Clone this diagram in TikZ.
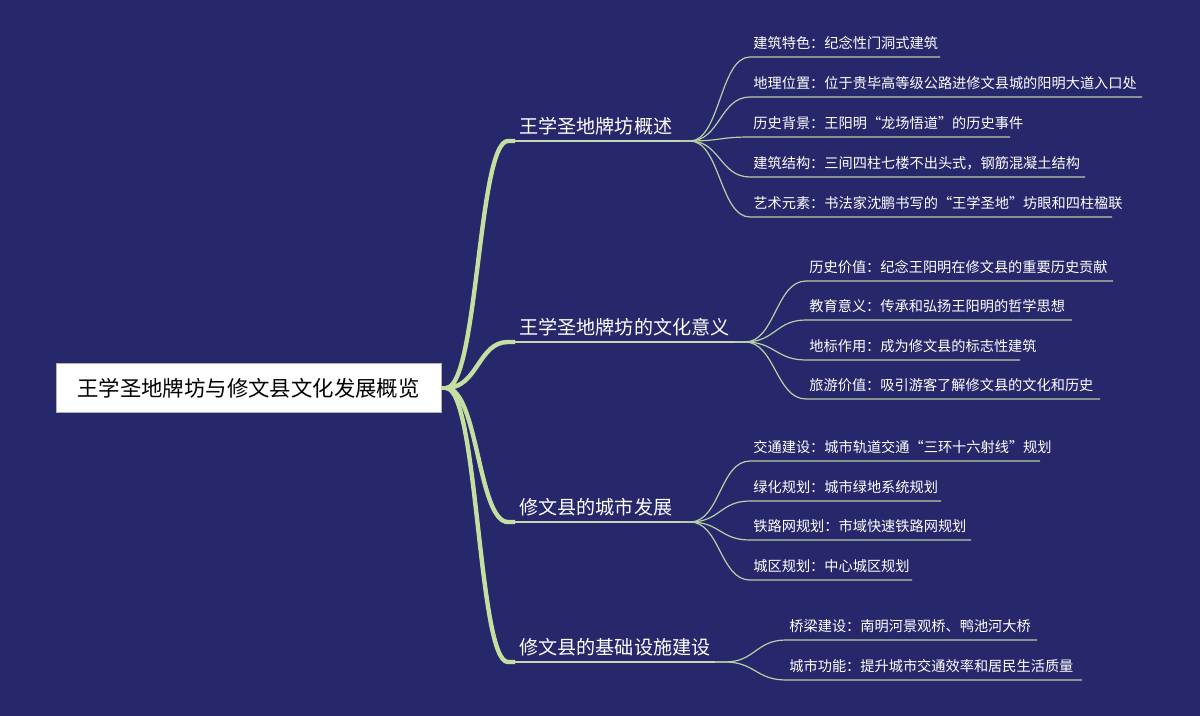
\documentclass[tikz,border=0pt]{standalone}
\usepackage{fontspec}
\setmainfont{Noto Sans CJK SC}
\usetikzlibrary{calc}
\begin{document}
\begin{tikzpicture}[x=0.5pt,y=-0.5pt,
 br/.style={draw=brc,line width=2.2pt},
 lf/.style={draw=lfc,line width=0.6pt},
 btxt/.style={anchor=south west,inner sep=0pt,text=white,font=\fontsize{9.55}{10}\selectfont},
 ltxt/.style={anchor=south west,inner sep=0pt,text=white,font=\fontsize{7.1}{8}\selectfont}]
\definecolor{bg}{HTML}{27286B}
\definecolor{brc}{HTML}{C5DFA0}
\definecolor{lfc}{HTML}{B9CFA6}
\fill[bg] (0,0) rectangle (1200,716);
\useasboundingbox (0,0) rectangle (1200,716);
\node[draw=gray!60,fill=white,minimum width=192.5pt,minimum height=24.5pt,inner sep=0pt,font=\fontsize{10.7}{12}\selectfont] (root) at (248.5,388) {王学圣地牌坊与修文县文化发展概览};
\coordinate (o) at (446,388);
\foreach \n/\y/\e/\t in {b1/141/680/王学圣地牌坊概述, b2/342/735/王学圣地牌坊的文化意义, b3/522/680/修文县的城市发展, b4/662/715/修文县的基础设施建设}{
 \coordinate (\n s) at (515,\y);
 \coordinate (\n e) at (\e,\y);
 \node[btxt] (\n) at (519,\y-6) {\t};
 \draw[br] (o) .. controls (478,388) and (478,\y) .. (508,\y) -- (\n s);
 \draw[lfc!80,line width=0.8pt] (\n s) -- (\n e);
}
\draw[br] (root.east) -- (o);
\newcommand\leaves[3]{%
 \foreach \y/\e/\t in {#3}{
  \draw[lf] (#1e) -- ++(10,0) .. controls ($(#1e)+(40,0)$) and (#2-30,\y) .. (#2,\y) -- (\e,\y);
  \node[ltxt] at (#2+3,\y-7) {\t};
 }}
\leaves{b1}{750}{57/940/建筑特色：纪念性门洞式建筑, 97/1142/地理位置：位于贵毕高等级公路进修文县城的阳明大道入口处, 137/1010/历史背景：王阳明“龙场悟道”的历史事件, 177/1085/建筑结构：三间四柱七楼不出头式，钢筋混凝土结构, 217/1112/艺术元素：书法家沈鹏书写的“王学圣地”坊眼和四柱楹联}
\leaves{b2}{806}{281/1113/历史价值：纪念王阳明在修文县的重要历史贡献, 320/1072/教育意义：传承和弘扬王阳明的哲学思想, 360/1020/地标作用：成为修文县的标志性建筑, 399/1100/旅游价值：吸引游客了解修文县的文化和历史}
\leaves{b3}{750}{461/1040/交通建设：城市轨道交通“三环十六射线”规划, 501/941/绿化规划：城市绿地系统规划, 540/971/铁路网规划：市域快速铁路网规划, 580/912/城区规划：中心城区规划}
\leaves{b4}{786}{640/1037/桥梁建设：南明河景观桥、鸭池河大桥, 680/1082/城市功能：提升城市交通效率和居民生活质量}
\end{tikzpicture}
\end{document}
